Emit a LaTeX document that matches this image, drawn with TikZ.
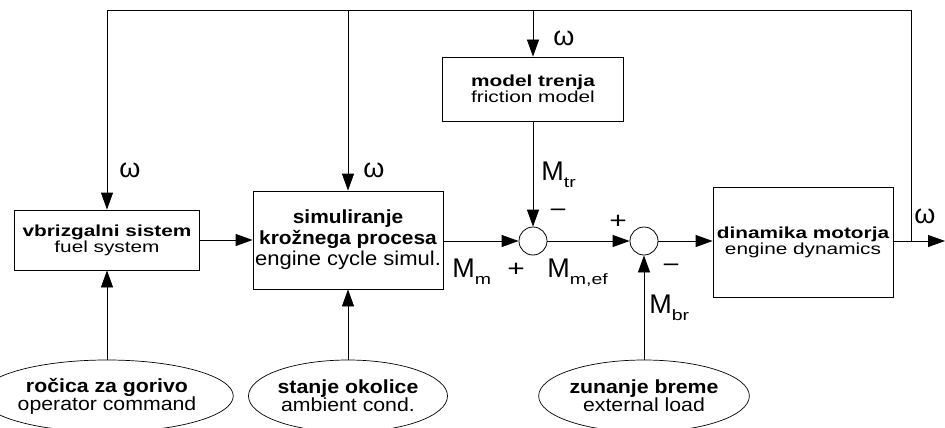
\documentclass[tikz,border=0pt]{standalone}
\usepackage{fontspec}
\setmainfont{Liberation Sans}
\newfontfamily\boxfont{Liberation Sans}[FakeStretch=1.3]
\newfontfamily\simfont{Liberation Sans}[FakeStretch=1.1]
\newfontfamily\ovalfont{Liberation Sans}[FakeStretch=1.12]
\usetikzlibrary{arrows.meta,shapes.geometric}
\newcommand{\msub}[1]{\raisebox{-7pt}{\boxfont\fontsize{15}{15}\selectfont #1}}
\tikzset{
  blk/.style={draw,line width=.8pt,align=center,inner sep=0,font=\boxfont\fontsize{16}{16}\selectfont},
  oval/.style={ellipse,draw,line width=.7pt,align=center,inner sep=0,minimum height=72pt,font=\ovalfont\fontsize{19}{18}\selectfont},
  sumpt/.style={circle,draw,line width=.8pt,minimum size=28pt,inner sep=0},
  lbl/.style={inner sep=0,anchor=base west,font=\fontsize{27}{27}\selectfont},
  sgn/.style={inner sep=0,font=\boxfont\fontsize{23}{23}\selectfont},
  om/.style={inner sep=0,font=\fontsize{27}{27}\selectfont},
}
\begin{document}
\begin{tikzpicture}[x=1pt,y=-1pt,line width=.8pt,>={Triangle[length=17pt,width=12pt]}]
\useasboundingbox (0,0) rectangle (945,428);
% blocks
\node[blk,minimum width=185pt,minimum height=60pt] (fuel) at (107,240) {{\bfseries vbrizgalni sistem}\\fuel system};
\node[blk,minimum width=190pt,minimum height=98pt,font=\simfont\fontsize{19}{21}\selectfont] (sim) at (348,240)
  {{\bfseries simuliranje}\\{\bfseries krožnega procesa}\\{\fontsize{20}{21}\selectfont engine cycle simul.}};
\node[blk,minimum width=181pt,minimum height=64pt] (fric) at (533,89) {{\bfseries model trenja}\\friction model};
\node[blk,minimum width=180pt,minimum height=110pt] (eng) at (803,242) {{\bfseries dinamika motorja}\\engine dynamics};
\node[sumpt] (s1) at (533,241) {};
\node[sumpt] (s2) at (644,241) {};
% inputs
\node[oval,minimum width=204pt] (e1) at (107,396) {{\bfseries ročica za gorivo}\\operator command};
\node[oval,minimum width=148pt] (e2) at (348,396) {{\bfseries stanje okolice}\\ambient cond.};
\node[oval,minimum width=180pt] (e3) at (644,396) {{\bfseries zunanje breme}\\external load};
% feedback
\coordinate (tl) at (107,10);
\coordinate (br) at (911,241);
\coordinate (out) at (945,241);
\draw[->] (fuel) -- (sim);
\draw[->] (sim.east |- s1) -- (s1);
\draw[->] (s1) -- (s2);
\draw[->] (s2) -- (eng.west |- s2);
\draw[->] (eng.east |- out) -- (out);
\draw[->] (br) |- (tl) -- (fuel.north);
\draw[->] (sim.north |- tl) -- (sim.north);
\draw[->] (fric.north |- tl) -- (fric.north);
\draw[->] (fric) -- (s1);
\draw[->] (e1) -- (fuel);
\draw[->] (e2) -- (sim);
\draw[->] (e3) -- (s2);
% labels
\node[om] (w1) at (130,170) {ω};
\node[om] (w2) at (374,170) {ω};
\node[om] (w3) at (564,38) {ω};
\node[om] (w4) at (925,216) {ω};
\node[lbl] (mm) at (452,277) {M\msub{m}};
\node[lbl] (mef) at (547,277) {M\msub{m,ef}};
\node[lbl] (mtr) at (541,180) {M\msub{tr}};
\node[lbl] (mbr) at (649,313) {M\msub{br}};
\node[sgn] (p1) at (516,270) {+};
\node[sgn] (n1) at (558,213) {−};
\node[sgn] (p2) at (618,222) {+};
\node[sgn] (n2) at (671,268) {−};
\end{tikzpicture}
\end{document}
